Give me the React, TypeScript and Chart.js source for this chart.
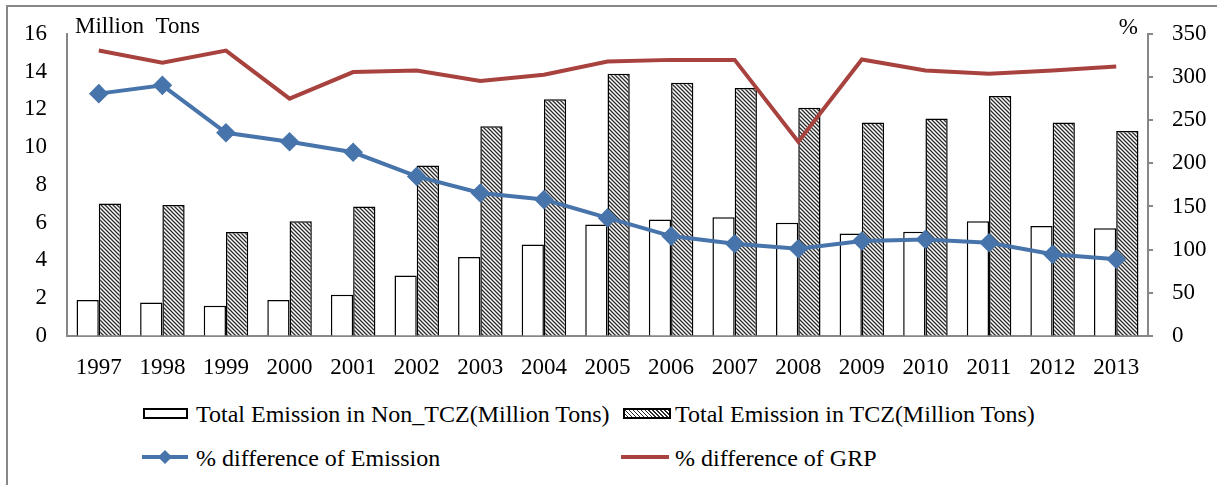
import React, { useEffect, useRef } from "react";
import { Chart, registerables } from "chart.js";

Chart.register(...registerables);

const years = ["1997", "1998", "1999", "2000", "2001", "2002", "2003", "2004", "2005", "2006", "2007", "2008", "2009", "2010", "2011", "2012", "2013"];
const nonTczEmission = [1.9, 1.78, 1.6, 1.9, 2.18, 3.2, 4.18, 4.85, 5.9, 6.17, 6.29, 5.99, 5.43, 5.52, 6.08, 5.82, 5.7];
const tczEmission = [7.01, 6.94, 5.5, 6.08, 6.85, 9.03, 11.1, 12.54, 13.88, 13.41, 13.13, 12.08, 11.3, 11.52, 12.71, 11.3, 10.85];
const emissionDiff = [280.7, 290.3, 235.4, 225, 212.8, 184.8, 165.6, 158, 136.8, 115.7, 106.8, 101.1, 110, 111.9, 108, 94.6, 88.9];
const grpDiff = [330.6, 316.4, 330.6, 274.9, 305.7, 307.6, 295.3, 302.6, 318, 319.8, 319.8, 225, 320.3, 307.6, 303.7, 307.6, 312.2];

const leftAxisMax = 16;
const leftAxisStep = 2;
const rightAxisMax = 350;
const rightAxisStep = 50;

const seriesNames = [
  "Total Emission in Non_TCZ(Million Tons)",
  "Total Emission in TCZ(Million Tons)",
  "% difference of Emission",
  "% difference of GRP",
];
const leftAxisTitle = "Million  Tons";
const rightAxisTitle = "%";

const FONT = "'Liberation Serif', 'Times New Roman', serif";
const BLUE = "#4774aa";
const RED = "#a8423f";
const AXIS_GRAY = "#878787";

function makeHatch(): CanvasPattern | string {
  const c = document.createElement("canvas");
  c.width = 4;
  c.height = 4;
  const ctx = c.getContext("2d");
  if (!ctx) return "#999";
  ctx.fillStyle = "#ffffff";
  ctx.fillRect(0, 0, 4, 4);
  ctx.strokeStyle = "#2a2a2a";
  ctx.lineWidth = 1.3;
  ctx.beginPath();
  ctx.moveTo(-1, -1);
  ctx.lineTo(5, 5);
  ctx.moveTo(-1, 3);
  ctx.lineTo(1, 5);
  ctx.moveTo(3, -1);
  ctx.lineTo(5, 1);
  ctx.stroke();
  const p = ctx.createPattern(c, "repeat");
  return p || "#999";
}

const titlePlugin = {
  id: "axisTitles",
  afterDraw(chart: any) {
    const ctx = chart.ctx;
    const area = chart.chartArea;
    ctx.save();
    ctx.fillStyle = "#000";
    ctx.font = `23px ${FONT}`;
    ctx.textBaseline = "alphabetic";
    ctx.textAlign = "left";
    ctx.fillText(leftAxisTitle, area.left + 8, 33);
    ctx.textAlign = "right";
    ctx.fillText(rightAxisTitle, area.right - 10, 34);
    ctx.restore();
  },
};

export default function App() {
  const canvasRef = useRef<HTMLCanvasElement | null>(null);

  useEffect(() => {
    const canvas = canvasRef.current;
    if (!canvas) return;
    const hatch = makeHatch();
    const chart = new Chart(canvas, {
      type: "bar",
      data: {
        labels: years,
        datasets: [
          {
            type: "line",
            label: seriesNames[2],
            data: emissionDiff,
            yAxisID: "y1",
            borderColor: BLUE,
            backgroundColor: BLUE,
            borderWidth: 4,
            pointStyle: "rectRot",
            pointRadius: 7,
            pointBackgroundColor: BLUE,
            pointBorderColor: BLUE,
            tension: 0,
            order: 1,
          } as any,
          {
            type: "line",
            label: seriesNames[3],
            data: grpDiff,
            yAxisID: "y1",
            borderColor: RED,
            backgroundColor: RED,
            borderWidth: 4,
            pointRadius: 0,
            tension: 0,
            order: 0,
          } as any,
          {
            type: "bar",
            label: seriesNames[0],
            data: nonTczEmission,
            yAxisID: "y",
            backgroundColor: "#ffffff",
            borderColor: "#000000",
            borderWidth: 1.5,
            categoryPercentage: 0.7,
            barPercentage: 1,
            order: 3,
          },
          {
            type: "bar",
            label: seriesNames[1],
            data: tczEmission,
            yAxisID: "y",
            backgroundColor: hatch as any,
            borderColor: "#000000",
            borderWidth: 1.5,
            categoryPercentage: 0.7,
            barPercentage: 1,
            order: 3,
          },
        ],
      },
      options: {
        responsive: false,
        animation: false,
        layout: { padding: { top: 32, left: 0, right: 0, bottom: 0 } },
        plugins: {
          legend: { display: false },
          tooltip: { enabled: false },
          title: { display: false },
        },
        scales: {
          x: {
            offset: true,
            grid: { display: false, drawOnChartArea: false, drawTicks: false },
            border: { display: true, color: AXIS_GRAY, width: 2 },
            ticks: {
              color: "#000",
              font: { family: FONT, size: 23 },
              padding: 18,
              maxRotation: 0,
              autoSkip: false,
            },
            afterFit(scale: any) {
              scale.height = 49;
            },
          },
          y: {
            position: "left",
            min: 0,
            max: leftAxisMax,
            grid: { drawOnChartArea: false, drawTicks: false },
            border: { display: true, color: AXIS_GRAY, width: 2 },
            ticks: {
              stepSize: leftAxisStep,
              color: "#000",
              font: { family: FONT, size: 23 },
              padding: 20,
            },
            afterFit(scale: any) {
              scale.width = 67;
            },
          },
          y1: {
            position: "right",
            min: 0,
            max: rightAxisMax,
            grid: { drawOnChartArea: false, drawTicks: true, tickLength: 5, color: AXIS_GRAY, lineWidth: 2 },
            border: { display: true, color: AXIS_GRAY, width: 2 },
            ticks: {
              stepSize: rightAxisStep,
              color: "#000",
              font: { family: FONT, size: 23 },
              padding: 19,
            },
            afterFit(scale: any) {
              scale.width = 69;
            },
          },
        },
      },
      plugins: [titlePlugin],
    });
    return () => chart.destroy();
  }, []);

  const legendText: React.CSSProperties = {
    position: "absolute",
    fontFamily: FONT,
    fontSize: 24,
    color: "#000",
    whiteSpace: "nowrap",
    lineHeight: "28px",
    height: 28,
  };

  return (
    <div
      style={{
        position: "fixed",
        left: 0,
        top: 0,
        width: 1217,
        height: 485,
        overflow: "hidden",
        background: "#fff",
      }}
    >
      <div
        style={{
          position: "absolute",
          left: 6,
          top: 5,
          width: 1400,
          height: 700,
          border: `2px solid ${AXIS_GRAY}`,
          boxSizing: "border-box",
        }}
      />
      <canvas ref={canvasRef} width={1217} height={385} style={{ position: "absolute", left: 0, top: 0 }} />

      {/* Legend row 1 */}
      <div
        style={{
          position: "absolute",
          left: 143,
          top: 408,
          width: 41,
          height: 7,
          border: "2px solid #000",
          background: "#fff",
        }}
      />
      <div style={{ ...legendText, left: 196, top: 400 }}>{seriesNames[0]}</div>
      <div
        style={{
          position: "absolute",
          left: 623,
          top: 408,
          width: 44,
          height: 7,
          border: "2px solid #000",
          background: "repeating-linear-gradient(45deg, #fff 0px, #fff 1.6px, #2a2a2a 1.6px, #2a2a2a 2.8px)",
        }}
      />
      <div style={{ ...legendText, left: 675, top: 400 }}>{seriesNames[1]}</div>

      {/* Legend row 2 */}
      <div style={{ position: "absolute", left: 142, top: 455, width: 46, height: 4, background: BLUE }} />
      <div
        style={{
          position: "absolute",
          left: 160,
          top: 452,
          width: 10,
          height: 10,
          background: BLUE,
          transform: "rotate(45deg)",
        }}
      />
      <div style={{ ...legendText, left: 196, top: 444 }}>{seriesNames[2]}</div>
      <div style={{ position: "absolute", left: 621, top: 455, width: 48, height: 4, background: RED }} />
      <div style={{ ...legendText, left: 675, top: 444 }}>{seriesNames[3]}</div>
    </div>
  );
}
